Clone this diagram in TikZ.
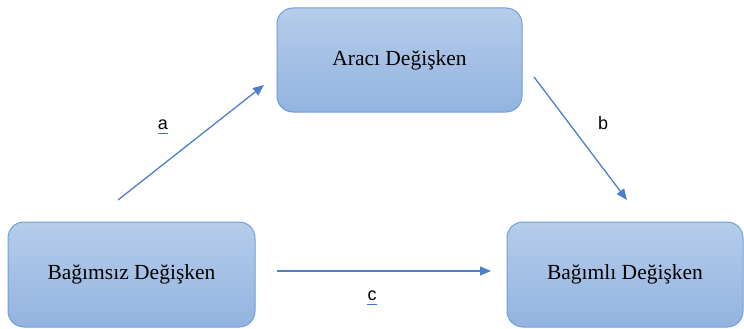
\documentclass[tikz,border=0pt]{standalone}
\usepackage{fontspec}
\setmainfont{Liberation Serif}
\newfontfamily\labelfont{Liberation Sans}
\usetikzlibrary{arrows.meta}
\definecolor{boxtop}{HTML}{B6CDEA}
\definecolor{boxbot}{HTML}{93B3E0}
\definecolor{boxedge}{HTML}{6F9FD8}
\definecolor{arrowblue}{HTML}{4C7FCB}
\definecolor{spellblue}{HTML}{3F6FD8}
\begin{document}
\begin{tikzpicture}[x=1pt,y=-1pt,
  varbox/.style={draw=boxedge, line width=1pt, rounded corners=16pt,
    top color=boxtop, bottom color=boxbot,
    font=\fontsize{21.5}{24}\selectfont, inner sep=0pt},
  path/.style={draw=arrowblue, line width=1.3pt,
    -{Triangle[length=11pt,width=9pt]}},
  pathlabel/.style={font=\labelfont\fontsize{18}{20}\selectfont, inner sep=0pt}
]
\useasboundingbox (0,0) rectangle (744,329);

% variables
\node[varbox, minimum width=245pt, minimum height=104pt] (med) at (399.5,60) {Aracı Değişken};
\node[varbox, minimum width=247pt, minimum height=105pt] (ind) at (131.5,274.5) {Bağımsız Değişken};
\node[varbox, minimum width=236pt, minimum height=105pt] (dep) at (625,274.5) {Bağımlı Değişken};

% path end points
\coordinate (a0) at (118,200);
\coordinate (a1) at (264,85);
\coordinate (b0) at (534,77);
\coordinate (b1) at (627,200);
\coordinate (c0) at (277,271);
\coordinate (c1) at (491,271);

\draw[path] (a0) -- (a1);
\draw[path] (b0) -- (b1);
\draw[path] (c0) -- (c1);

% path labels
\node[pathlabel] (la) at (163,125) {a};
\node[pathlabel] (lb) at (603,123) {b};
\node[pathlabel] (lc) at (372,296) {c};
\draw[spellblue, line width=1.2pt] ([yshift=-3pt]la.south west) -- ([yshift=-3pt]la.south east);
\draw[spellblue, line width=1.2pt] ([yshift=-3pt]lc.south west) -- ([yshift=-3pt]lc.south east);
\end{tikzpicture}
\end{document}
